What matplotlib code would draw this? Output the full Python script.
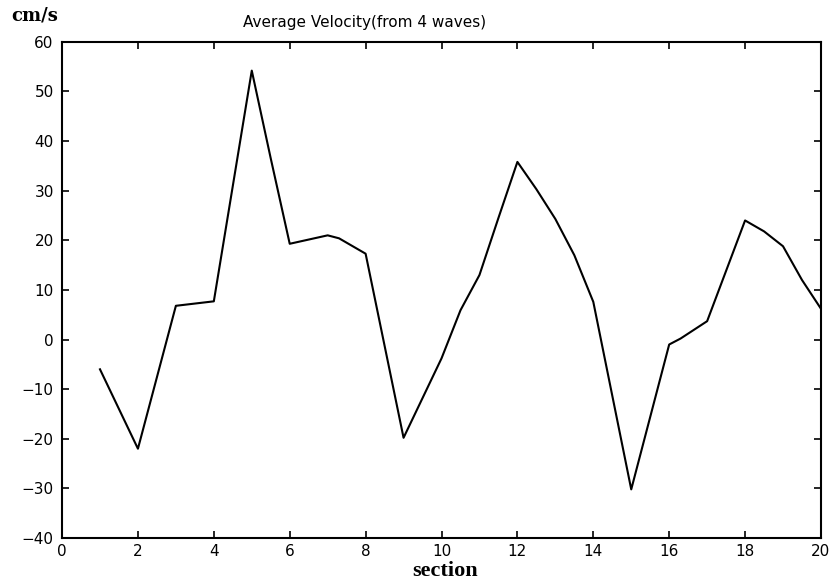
import matplotlib
matplotlib.use("Agg")
import matplotlib.pyplot as plt

# data (section vs average velocity, cm/s)
section = [1.0, 2.0, 3.0, 4.0, 5.0, 5.5, 6.0, 7.0, 7.3, 8.0, 9.0, 10.0, 10.5, 11.0,
           11.5, 12.0, 12.5, 13.0, 13.5, 14.0, 15.0, 16.0, 16.3, 17.0, 18.0,
           18.5, 19.0, 19.5, 20.0]
velocity = [-6.0, -22.0, 6.8, 7.7, 54.2, 36.5, 19.3, 21.0, 20.4, 17.3, -19.8, -3.8, 5.9, 13.0,
            24.5, 35.8, 30.3, 24.3, 17.0, 7.6, -30.2, -1.0, 0.2, 3.7, 24.0,
            21.8, 18.8, 12.0, 6.2]

xticks = [0, 2, 4, 6, 8, 10, 12, 14, 16, 18, 20]
yticks = [-40, -30, -20, -10, 0, 10, 20, 30, 40, 50, 60]

fig = plt.figure(figsize=(8.35, 5.81), dpi=100)
ax = fig.add_axes([0.0743, 0.074, 0.9089, 0.854])
ax.plot(section, velocity, color="black", linewidth=1.5)
ax.set_xlim(0, 20)
ax.set_ylim(-40, 60)
ax.set_xticks(xticks)
ax.set_yticks(yticks)
ax.set_yticklabels([str(v).replace("-", "\u2212") for v in yticks])
ax.tick_params(direction="in", top=True, right=True, length=5, width=1.2,
               labelsize=11)
ax.tick_params(axis="y", pad=6)
ax.tick_params(axis="x", pad=4)
for lab in ax.get_xticklabels() + ax.get_yticklabels():
    lab.set_fontfamily("DejaVu Sans")
for s in ax.spines.values():
    s.set_linewidth(1.5)

fig.text(0.291, 0.9535, "Average Velocity(from 4 waves)", ha="left", va="baseline",
         fontsize=11, family="DejaVu Sans")
fig.text(0.014, 0.9644, "cm/s", ha="left", va="baseline", fontsize=13,
         family="DejaVu Serif", weight="bold")
fig.text(0.533, 0.008, "section", ha="center", va="baseline", fontsize=16,
         family="Liberation Serif", weight="bold")

fig.savefig("out.png", dpi=100)
